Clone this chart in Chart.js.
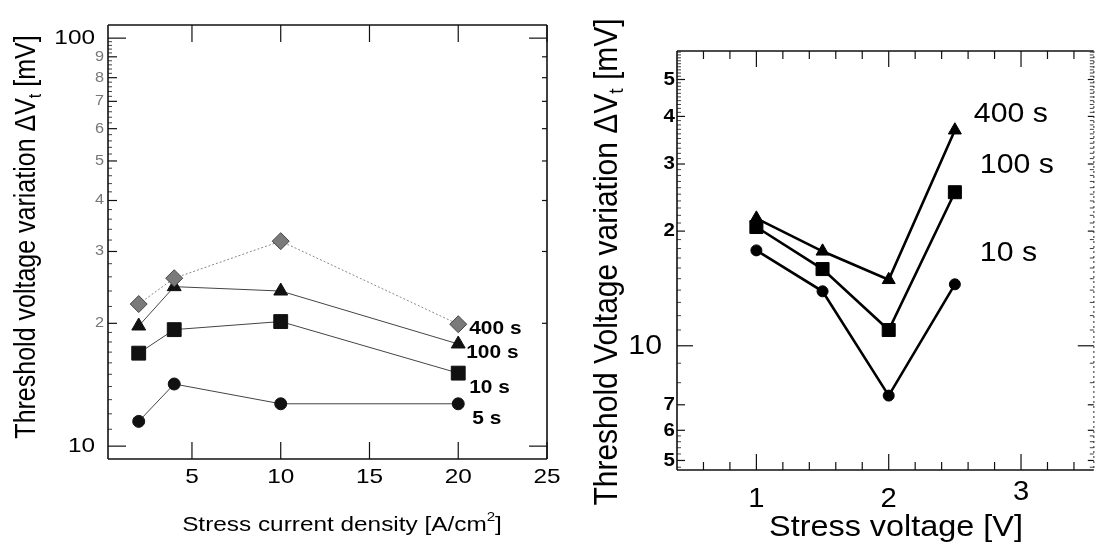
<!DOCTYPE html>
<html lang="en">
<head>
<meta charset="UTF-8">
<title>Threshold voltage variation</title>
<script src="https://cdn.jsdelivr.net/npm/chart.js"></script>
<style>
  html, body { margin: 0; padding: 0; background: #fff; }
  #wrap { position: relative; width: 1104px; height: 542px; overflow: hidden; }
  canvas { position: absolute; top: 0; }
  #left { left: 0; }
  #right { left: 560px; }
</style>
</head>
<body>
<div id="wrap">
  <canvas id="left" width="560" height="542"></canvas>
  <canvas id="right" width="544" height="542"></canvas>
</div>
<script>
// ---- left panel: dVt vs stress current density ----
const currentDensity = [2, 4, 10, 20];
const dvt400sA = [22.3, 25.8, 31.8, 19.9];
const dvt100sA = [19.7, 24.6, 24.0, 17.8];
const dvt10sA = [16.9, 19.3, 20.2, 15.1];
const dvt5sA = [11.5, 14.2, 12.7, 12.7];
const seriesNamesA = ['400 s', '100 s', '10 s', '5 s'];

const leftXTicks = [5, 10, 15, 20, 25];
const leftXLabels = ['5', '10', '15', '20', '25'];
const leftYTicks = [10, 20, 30, 40, 50, 60, 70, 80, 90, 100];
const leftYLabels = ['10', '2', '3', '4', '5', '6', '7', '8', '9', '100'];
const leftYMinor = [11, 12, 13, 14, 15, 16, 17, 18, 19, 22, 24, 26, 28, 32, 34, 36, 38, 42, 44, 46, 48, 52, 54, 56, 58, 62, 64, 66, 68, 72, 74, 76, 78, 82, 84, 86, 88, 92, 94, 96, 98];

// ---- right panel: dVt vs stress voltage ----
const stressVoltage = [1, 1.5, 2, 2.5];
const dvt400sB = [21.6, 17.7, 14.9, 36.8];
const dvt100sB = [20.5, 15.9, 11.0, 25.3];
const dvt10sB = [17.8, 13.9, 7.4, 14.5];
const seriesNamesB = ['400 s', '100 s', '10 s'];

const rightXTicks = [1, 2, 3];
const rightXLabels = ['1', '2', '3'];
const rightXMinor = [0.6, 0.8, 1.2, 1.4, 1.6, 1.8, 2.2, 2.4, 2.6, 2.8, 3.2, 3.4];
const rightYTicks = [5, 6, 7, 10, 20, 30, 40, 50];
const rightYLabels = ['5', '6', '7', '10', '2', '3', '4', '5'];
const rightYMinor = [4.8, 5.2, 5.4, 5.6, 5.8, 8, 9, 11, 12, 13, 14, 15, 16, 17, 18, 19, 21, 22, 23, 24, 25, 26, 27, 28, 29,
  31, 32, 33, 34, 35, 36, 37, 38, 39, 41, 42, 43, 44, 45, 46, 47, 48, 49, 51, 52, 53, 54, 55, 56, 57, 58, 59];

const FONT = '"Liberation Sans", Arial, sans-serif';
const pts = (xs, ys) => xs.map((x, i) => ({ x: x, y: ys[i] }));

// text with a horizontal stretch (the scanned figure is a bit wide)
function stretchText(ctx, s, x, y, k) {
  ctx.save();
  ctx.translate(x, y);
  ctx.scale(k, 1);
  ctx.fillText(s, 0, 0);
  ctx.restore();
}

// draws the boxed frame, inward ticks, tick labels, titles and series labels
const framePlugin = {
  id: 'frame',
  afterDraw(chart, args, o) {
    const { ctx, chartArea: a } = chart;
    const sx = chart.scales.x, sy = chart.scales.y;
    const k = o.stretch;
    ctx.save();
    ctx.strokeStyle = '#111';
    ctx.lineWidth = o.frameWidth;
    const line = (x1, y1, x2, y2) => { ctx.beginPath(); ctx.moveTo(x1, y1); ctx.lineTo(x2, y2); ctx.stroke(); };
    line(a.left, a.top, a.right, a.top);
    line(a.left, a.top, a.left, a.bottom);
    line(a.left, a.bottom, a.right, a.bottom);
    if (o.rightDashed) { ctx.strokeStyle = '#777'; ctx.setLineDash([2, 3]); }
    line(a.right, a.top, a.right, a.bottom);
    ctx.setLineDash([]);
    ctx.strokeStyle = '#111';
    ctx.lineWidth = 1.2;

    // x ticks top and bottom
    o.xMajor.forEach(v => {
      const px = sx.getPixelForValue(v);
      line(px, a.bottom, px, a.bottom - o.xMajorLen);
      line(px, a.top, px, a.top + o.xMajorLen);
    });
    (o.xMinor || []).forEach(v => {
      const px = sx.getPixelForValue(v);
      line(px, a.bottom, px, a.bottom - o.xMinorLen);
      line(px, a.top, px, a.top + o.xMinorLen);
    });
    // y ticks
    o.yTicks.forEach(v => {
      const py = sy.getPixelForValue(v);
      const big = o.yMajorVals.includes(v);
      line(a.left, py, a.left + (big ? o.yMajorLen : o.yMidLen), py);
      line(a.right, py, a.right - (big ? o.yMajorLen : o.yRightLen), py);
    });
    ctx.lineWidth = 0.8;
    o.yMinor.forEach(v => {
      const py = sy.getPixelForValue(v);
      line(a.left, py, a.left + o.yMinorLen, py);
      if (o.rightMinor) line(a.right, py, a.right - o.yMinorLen, py);
    });

    // tick labels
    ctx.textBaseline = 'middle';
    ctx.fillStyle = '#000';
    ctx.textAlign = 'center';
    ctx.font = o.xLabelFont;
    o.xMajor.forEach((v, i) => {
      const dy = (o.xLabelDy && o.xLabelDy[i]) || 0;
      stretchText(ctx, o.xLabels[i], sx.getPixelForValue(v), a.bottom + o.xLabelGap + dy, k);
    });
    ctx.textAlign = 'right';
    o.yTicks.forEach((v, i) => {
      const big = o.yMajorVals.includes(v);
      ctx.font = big ? o.yBigFont : o.ySmallFont;
      ctx.fillStyle = big ? '#000' : o.ySmallColor;
      stretchText(ctx, o.yLabels[i], a.left - (big ? o.yBigGap : o.ySmallGap), sy.getPixelForValue(v), k);
    });

    // series labels next to the last point of each curve
    ctx.fillStyle = '#000';
    ctx.textAlign = 'left';
    ctx.font = o.seriesFont;
    chart.data.datasets.forEach((ds, i) => {
      const last = ds.data[ds.data.length - 1];
      const off = o.seriesOffsets[i];
      stretchText(ctx, ds.label, sx.getPixelForValue(last.x) + off[0], sy.getPixelForValue(last.y) + off[1], k);
    });

    // axis titles (runs allow sub/superscripts)
    const drawRuns = (runs, cx, cy, rotate) => {
      ctx.save();
      ctx.translate(cx, cy);
      ctx.scale(k, 1);
      if (rotate) ctx.rotate(-Math.PI / 2);
      ctx.textAlign = 'left';
      ctx.textBaseline = 'alphabetic';
      let total = 0;
      runs.forEach(r => { ctx.font = r.font; total += ctx.measureText(r.text).width; });
      let x = -total / 2;
      runs.forEach(r => {
        ctx.font = r.font;
        ctx.fillText(r.text, x, r.dy);
        x += ctx.measureText(r.text).width;
      });
      ctx.restore();
    };
    drawRuns(o.xTitle, o.xTitlePos[0], o.xTitlePos[1], false);
    drawRuns(o.yTitle, o.yTitlePos[0], o.yTitlePos[1], true);
    ctx.restore();
  }
};

function makeChart(id, datasets, xr, yr, pad, frame) {
  return new Chart(document.getElementById(id), {
    type: 'line',
    data: { datasets: datasets },
    options: {
      responsive: false,
      animation: false,
      devicePixelRatio: 1,
      layout: { padding: pad },
      plugins: { legend: { display: false }, tooltip: { enabled: false }, frame: frame },
      scales: {
        x: { type: 'linear', min: xr[0], max: xr[1], display: false },
        y: { type: 'logarithmic', min: yr[0], max: yr[1], display: false }
      }
    },
    plugins: [framePlugin]
  });
}

// left chart
const thinLine = { borderColor: '#444', borderWidth: 1, pointBackgroundColor: '#111', pointBorderColor: '#111', pointBorderWidth: 1 };
makeChart('left', [
  { label: seriesNamesA[0], data: pts(currentDensity, dvt400sA), borderColor: '#888', borderWidth: 1, borderDash: [2, 2],
    pointStyle: 'rectRot', pointRadius: 8.5, pointBackgroundColor: '#7a7a7a', pointBorderColor: '#444', pointBorderWidth: 1 },
  Object.assign({ label: seriesNamesA[1], data: pts(currentDensity, dvt100sA), pointStyle: 'triangle', pointRadius: 8 }, thinLine),
  Object.assign({ label: seriesNamesA[2], data: pts(currentDensity, dvt10sA), pointStyle: 'rect', pointRadius: 9.8 }, thinLine),
  Object.assign({ label: seriesNamesA[3], data: pts(currentDensity, dvt5sA), pointStyle: 'circle', pointRadius: 6 }, thinLine)
], [0.27, 25], [9.3, 107.7], { left: 108, top: 25, right: 13, bottom: 83 }, {
  frameWidth: 1.6, stretch: 1.16,
  xMajor: leftXTicks, xLabels: leftXLabels, xMajorLen: 17, xMinorLen: 0,
  yTicks: leftYTicks, yLabels: leftYLabels, yMajorVals: [10, 100], yMinor: leftYMinor,
  yMajorLen: 18, yMidLen: 9, yRightLen: 5, yMinorLen: 4, rightMinor: false,
  xLabelFont: '21px ' + FONT, xLabelGap: 18,
  yBigFont: '21px ' + FONT, ySmallFont: '14px ' + FONT, ySmallColor: '#777', yBigGap: 13, ySmallGap: 4,
  seriesFont: 'bold 18px ' + FONT, seriesOffsets: [[11, 5], [8, 9], [11, 15], [14, 15]],
  xTitle: [{ text: 'Stress current density [A/cm', font: '21px ' + FONT, dy: 0 },
           { text: '2', font: '13px ' + FONT, dy: -10 },
           { text: ']', font: '21px ' + FONT, dy: 0 }],
  xTitlePos: [342, 531],
  yTitle: [{ text: 'Threshold voltage variation \u0394V', font: '25px ' + FONT, dy: 0 },
           { text: 't', font: '16px ' + FONT, dy: 5 },
           { text: ' [mV]', font: '25px ' + FONT, dy: 0 }],
  yTitlePos: [35, 237]
});

// right chart
const boldLine = { borderColor: '#000', borderWidth: 2.6, pointBackgroundColor: '#000', pointBorderColor: '#000', pointBorderWidth: 1 };
makeChart('right', [
  Object.assign({ label: seriesNamesB[0], data: pts(stressVoltage, dvt400sB), pointStyle: 'triangle', pointRadius: 7.5 }, boldLine),
  Object.assign({ label: seriesNamesB[1], data: pts(stressVoltage, dvt100sB), pointStyle: 'rect', pointRadius: 9.2 }, boldLine),
  Object.assign({ label: seriesNamesB[2], data: pts(stressVoltage, dvt10sB), pointStyle: 'circle', pointRadius: 5.5 }, boldLine)
], [0.4, 3.55], [4.72, 59.4], { left: 117, top: 51, right: 2, bottom: 72 }, {
  frameWidth: 1.6, rightDashed: true, stretch: 1.08,
  xMajor: rightXTicks, xLabels: rightXLabels, xMinor: rightXMinor, xMajorLen: 16, xMinorLen: 8,
  yTicks: rightYTicks, yLabels: rightYLabels, yMajorVals: [10], yMinor: rightYMinor,
  yMajorLen: 16, yMidLen: 8, yRightLen: 6, yMinorLen: 4, rightMinor: true,
  xLabelFont: '27px ' + FONT, xLabelGap: 30, xLabelDy: [0, 0, -7],
  yBigFont: '28px ' + FONT, ySmallFont: 'bold 19px ' + FONT, ySmallColor: '#000', yBigGap: 15, ySmallGap: 2,
  seriesFont: '28px ' + FONT, seriesOffsets: [[19, -16], [25, -27], [25, -31]],
  xTitle: [{ text: 'Stress voltage [V]', font: '30px ' + FONT, dy: 0 }],
  xTitlePos: [336, 536],
  yTitle: [{ text: 'Threshold Voltage variation \u0394V', font: '30px ' + FONT, dy: 0 },
           { text: 't', font: '19px ' + FONT, dy: 6 },
           { text: ' [mV]', font: '30px ' + FONT, dy: 0 }],
  yTitlePos: [57, 262]
});
</script>
</body>
</html>
